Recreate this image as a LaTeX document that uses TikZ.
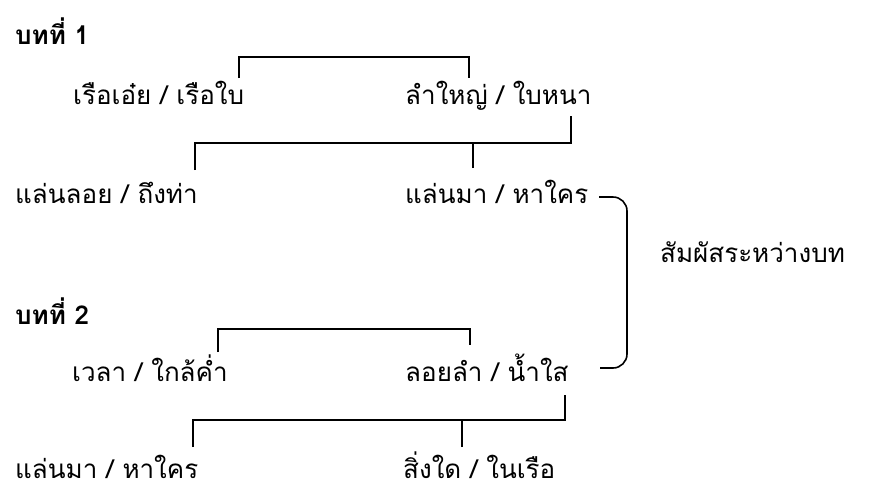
\documentclass[tikz,border=0pt]{standalone}
\usepackage{fontspec}
\setmainfont[Script=Thai]{Loma}
\usetikzlibrary{positioning}

\begin{document}
\begin{tikzpicture}[x=1pt, y=-1pt,
  every node/.style = {anchor=base west, inner sep=0pt,
    font=\fontsize{26}{30}\selectfont},
  head/.style = {font=\fontsize{26}{30}\selectfont\bfseries},
  link/.style = {draw, line width=1.6pt}]
  \useasboundingbox (0,0) rectangle (870,488);
  % บทที่ 1
  \node[head] (t1) at (15,44) {บทที่ 1};
  \node (a1) at (73,104) {เรือเอ๋ย / เรือใบ};
  \node (b1) at (405,104) {ลำใหญ่ / ใบหนา};
  \node (c1) at (15,203) {แล่นลอย / ถึงท่า};
  \node (d1) at (405,203) {แล่นมา / หาใคร};
  % บทที่ 2
  \node[head] (t2) at (15,324) {บทที่ 2};
  \node (a2) at (72,381) {เวลา / ใกล้ค่ำ};
  \node (b2) at (405,381) {ลอยลำ / น้ำใส};
  \node (c2) at (15,478) {แล่นมา / หาใคร};
  \node (d2) at (403,478) {สิ่งใด / ในเรือ};
  \node (rhyme) at (660,262) {สัมผัสระหว่างบท};

  % rhyme brackets
  \draw[link] ([shift={(166,-26)}]a1.base west) -- ++(0,-21)
    -| ([shift={(64,-26)}]b1.base west);
  \draw[link] ([shift={(180,-33)}]c1.base west) -- ++(0,-27)
    -| ([shift={(166,12)}]b1.base west);
  \draw[link] ([shift={(68,-35)}]d1.base west) -- ++(0,-25);
  \draw[link] ([shift={(146,-29)}]a2.base west) -- ++(0,-23)
    -| ([shift={(65,-36)}]b2.base west);
  \draw[link] ([shift={(178,-31)}]c2.base west) -- ++(0,-27)
    -| ([shift={(160,14)}]b2.base west);
  \draw[link] ([shift={(59,-31)}]d2.base west) -- ++(0,-27);
  % between the two stanzas
  \draw[link, rounded corners=14pt] ([shift={(194,-6)}]d1.base west)
    -| ([xshift=-33pt]rhyme.west) |- ([shift={(195,-13)}]b2.base west);
\end{tikzpicture}
\end{document}
